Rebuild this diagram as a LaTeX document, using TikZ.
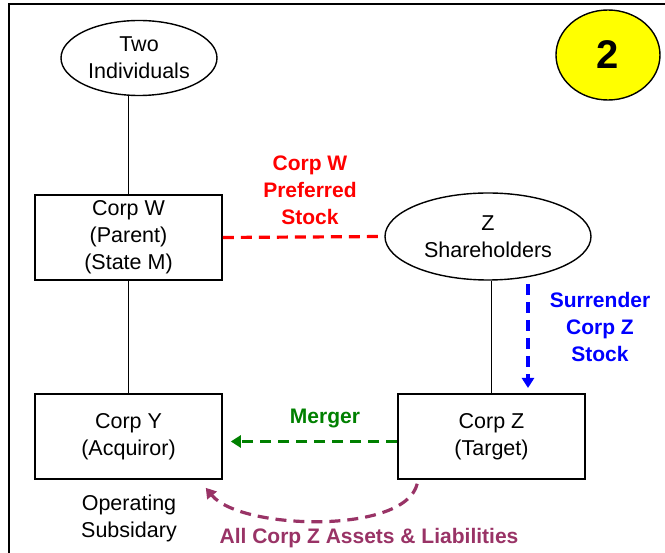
\documentclass[tikz,border=0pt]{standalone}
\usepackage{fontspec}
\setmainfont{Liberation Sans}
\usepackage{tikz}
\usetikzlibrary{arrows.meta,positioning,calc,shapes.geometric}
\definecolor{StockRed}{HTML}{FF0000}
\definecolor{SurrBlue}{HTML}{0000FF}
\definecolor{MergeGreen}{HTML}{008000}
\definecolor{AssetPlum}{HTML}{993366}
\definecolor{BadgeYellow}{HTML}{FFFF00}

\begin{document}
\begin{tikzpicture}[x=1pt, y=-1pt,
  entity/.style={draw, line width=1.6pt, minimum width=187pt, minimum height=85pt,
    align=center, font=\fontsize{21.5}{27}\selectfont},
  holder/.style={draw, ellipse, line width=1.4pt, inner sep=0pt, align=center,
    font=\fontsize{21.5}{27}\selectfont},
  flow/.style={line width=3.2pt, dash pattern=on 11pt off 7pt},
  flowtext/.style={align=center, font=\fontsize{21}{27}\selectfont\bfseries}]
  \useasboundingbox (0,0) rectangle (665,553);
  % frame
  \draw[line width=2.5pt] (665,4) -- (9,4) -- (9,553);
  % parties
  \node[holder, minimum width=156pt, minimum height=75pt] (ind) at (139,58) {Two\\Individuals};
  \node[entity] (corpw) at (128.5,237.5) {Corp W\\(Parent)\\(State M)};
  \node[holder, minimum width=206pt, minimum height=87pt] (zsh) at (488,236.5) {Z\\Shareholders};
  \node[entity] (corpy) at (128.5,436.5) {Corp Y\\(Acquiror)};
  \node[entity] (corpz) at (491.5,436.5) {Corp Z\\(Target)};
  \node[align=center, font=\fontsize{21.5}{27}\selectfont] (opsub) at (129,518) {Operating\\Subsidary};
  \node[draw, ellipse, fill=BadgeYellow, line width=1.4pt, minimum width=104pt, minimum height=90pt,
    font=\fontsize{40}{40}\selectfont\bfseries] (badge) at (608,55) {2};
  % ownership lines
  \draw[line width=1.4pt] (ind.south -| corpw.north) -- (corpw.north);
  \draw[line width=1.4pt] (corpw) -- (corpy);
  \draw[line width=1.4pt] (zsh.south -| corpz.north) -- (corpz.north);
  % exchange
  \draw[flow, StockRed] (corpw.east) -- (zsh.west);
  \node[flowtext, text=StockRed] (pref) at (310,190) {Corp W\\Preferred\\Stock};
  \coordinate (surrA) at (528,284);
  \coordinate (surrB) at (528,388);
  \draw[flow, SurrBlue, -{Triangle[length=10pt, width=12pt]}] (surrA) -- (surrB);
  \node[flowtext, text=SurrBlue] (surr) at (600,327) {Surrender\\Corp Z\\Stock};
  \draw[flow, MergeGreen, -{Triangle[length=10pt, width=12pt]}] ($(corpz.west)+(0,5)$) -- ($(corpy.east)+(8,5)$);
  \node[flowtext, text=MergeGreen] (merge) at (325,419) {Merger};
  \draw[flow, AssetPlum, -{Triangle[length=10pt, width=12pt]}] ($(corpz.south west)+(20,4)$)
    .. controls (405,535) and (240,530) .. ($(corpy.south east)+(-17,8)$);
  \node[flowtext, text=AssetPlum] (assets) at (369,538) {All Corp Z Assets \& Liabilities};
\end{tikzpicture}
\end{document}
